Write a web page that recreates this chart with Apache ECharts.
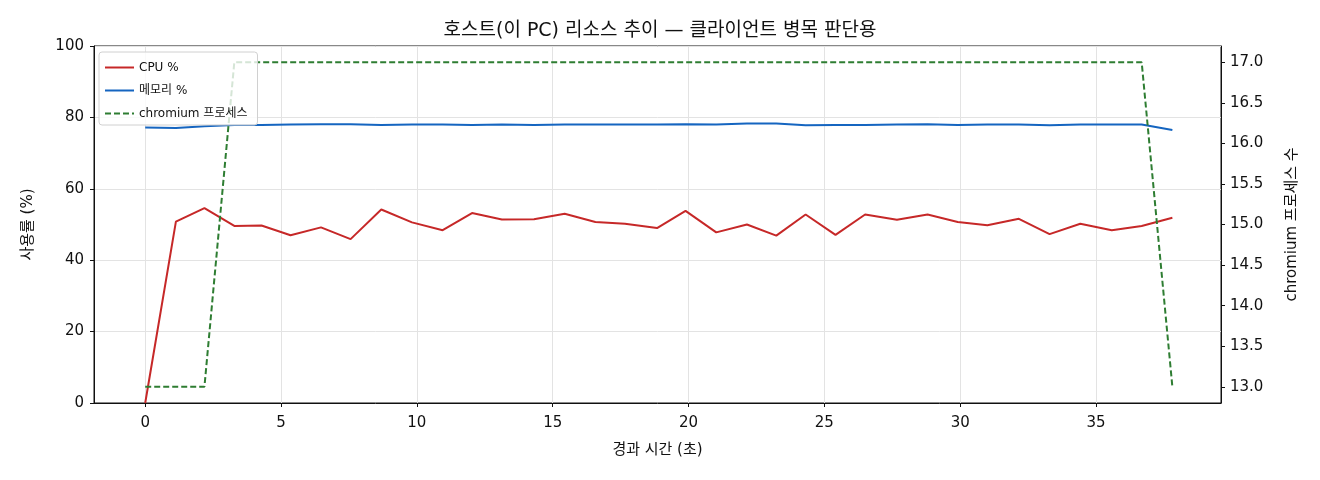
<!DOCTYPE html>
<html>
<head>
<meta charset="utf-8">
<script src="https://cdn.jsdelivr.net/npm/echarts@6/dist/echarts.min.js"></script>
<style>
  html, body { margin: 0; padding: 0; background: #fff; }
  #chart { width: 1320px; height: 480px; }
</style>
</head>
<body>
<div id="chart"></div>
<script>
// 경과 시간 (초)
const times = [0, 1.13, 2.18, 3.28, 4.28, 5.35, 6.47, 7.56, 8.69, 9.82, 10.95, 12.03, 13.13, 14.31,
    15.44, 16.57, 17.66, 18.84, 19.89, 21.02, 22.15, 23.23, 24.31, 25.41, 26.5, 27.67, 28.8,
    29.91, 31.0, 32.16, 33.29, 34.42, 35.58, 36.68, 37.81]
const cpu = [0, 50.8, 54.6, 49.6, 49.7, 47.0, 49.2, 45.9, 54.2, 50.6, 48.4, 53.2, 51.4, 51.5,
    53.0, 50.7, 50.2, 49.0, 53.8, 47.8, 50.0, 46.9, 52.8, 47.1, 52.8, 51.3, 52.8, 50.7,
    49.8, 51.6, 47.3, 50.2, 48.4, 49.6, 51.9]
const mem = [77.2, 77.0, 77.5, 77.9, 77.9, 78.0, 78.1, 78.1, 77.9, 78.0, 78.0, 77.9, 78.0, 77.9,
    78.0, 78.0, 78.0, 78.0, 78.1, 78.0, 78.3, 78.3, 77.8, 77.9, 77.9, 78.0, 78.1, 77.9,
    78.0, 78.0, 77.8, 78.0, 78.0, 78.0, 76.5]
const procs = [13, 13, 13, 17, 17, 17, 17, 17, 17, 17, 17, 17, 17, 17, 17, 17, 17, 17, 17,
    17, 17, 17, 17, 17, 17, 17, 17, 17, 17, 17, 17, 17, 17, 17, 13]
const xTicks = [0, 5, 10, 15, 20, 25, 30, 35]
const procTicks = [13, 13.5, 14, 14.5, 15, 15.5, 16, 16.5, 17]

// 라틴 문자는 DejaVu, 한글은 Noto CJK 로 fallback
const FONT = '"DejaVu Sans", "Noto Sans CJK KR", sans-serif'
const INK = '#111'
const zip = (xs, ys) => xs.map((x, i) => [x, ys[i]])

const chart = echarts.init(document.getElementById('chart'))

const option = {
    animation: false,
    textStyle: { fontFamily: FONT },
    title: {
        text: '호스트(이 PC) 리소스 추이 — 클라이언트 병목 판단용',
        left: 'center',
        top: 17,
        textStyle: { fontFamily: FONT, fontSize: 19, fontWeight: 'normal', color: INK }
    },
    legend: {
        orient: 'vertical',
        left: 99,
        top: 52,
        itemWidth: 29,
        itemHeight: 10,
        itemGap: 8,
        padding: [8, 10, 4, 5],
        backgroundColor: 'rgba(255,255,255,0.8)',
        borderColor: '#d0d0d0',
        borderWidth: 1,
        borderRadius: 3,
        itemStyle: { opacity: 0 },
        textStyle: { fontFamily: FONT, fontSize: 12, color: INK, lineHeight: 15 },
        data: ['CPU %', '메모리 %', 'chromium 프로세스']
    },
    grid: {
        left: 94, right: 99, top: 46, bottom: 77,
        show: true, borderColor: INK, borderWidth: 1
    },
    xAxis: {
        type: 'value',
        min: -1.885,
        max: 39.6,
        name: '경과 시간 (초)',
        nameLocation: 'middle',
        nameGap: 40,
        nameTextStyle: { fontFamily: FONT, fontSize: 15, color: INK },
        axisLine: { show: true, onZero: false, lineStyle: { color: INK } },
        axisTick: { show: true, length: 4, customValues: xTicks, lineStyle: { color: INK } },
        axisLabel: { customValues: xTicks, fontSize: 15, color: INK, margin: 13 },
        splitLine: { show: true, lineStyle: { color: '#e3e3e3' } }
    },
    yAxis: [{
        type: 'value',
        min: 0,
        max: 100,
        interval: 20,
        name: '사용률 (%)',
        nameLocation: 'middle',
        nameGap: 58,
        nameTextStyle: { fontFamily: FONT, fontSize: 15, color: INK },
        axisLine: { show: true, onZero: false, lineStyle: { color: INK } },
        axisTick: { show: true, length: 4, lineStyle: { color: INK } },
        axisLabel: { fontSize: 15, color: INK, margin: 10 },
        splitLine: { show: true, lineStyle: { color: '#e3e3e3' } }
    }, {
        type: 'value',
        position: 'right',
        min: 12.8,
        max: 17.2,
        name: 'chromium 프로세스 수',
        nameLocation: 'middle',
        nameGap: 64,
        nameRotate: 90,
        nameTextStyle: { fontFamily: FONT, fontSize: 15, color: INK },
        axisLine: { show: true, onZero: false, lineStyle: { color: INK } },
        axisTick: { show: true, length: 4, customValues: procTicks, lineStyle: { color: INK } },
        axisLabel: {
            customValues: procTicks, fontSize: 15, color: INK, margin: 9,
            formatter: v => v.toFixed(1)
        },
        splitLine: { show: false }
    }],
    series: [{
        name: 'CPU %',
        type: 'line',
        data: zip(times, cpu),
        showSymbol: false,
        symbol: 'none',
        color: '#c62828',
        lineStyle: { width: 2, color: '#c62828' }
    }, {
        name: '메모리 %',
        type: 'line',
        data: zip(times, mem),
        showSymbol: false,
        symbol: 'none',
        color: '#1565c0',
        lineStyle: { width: 2, color: '#1565c0' }
    }, {
        name: 'chromium 프로세스',
        type: 'line',
        yAxisIndex: 1,
        data: zip(times, procs),
        showSymbol: false,
        symbol: 'none',
        color: '#2e7d32',
        lineStyle: { width: 2, color: '#2e7d32', type: [6, 3] }
    }]
}

chart.setOption(option)
</script>
</body>
</html>
